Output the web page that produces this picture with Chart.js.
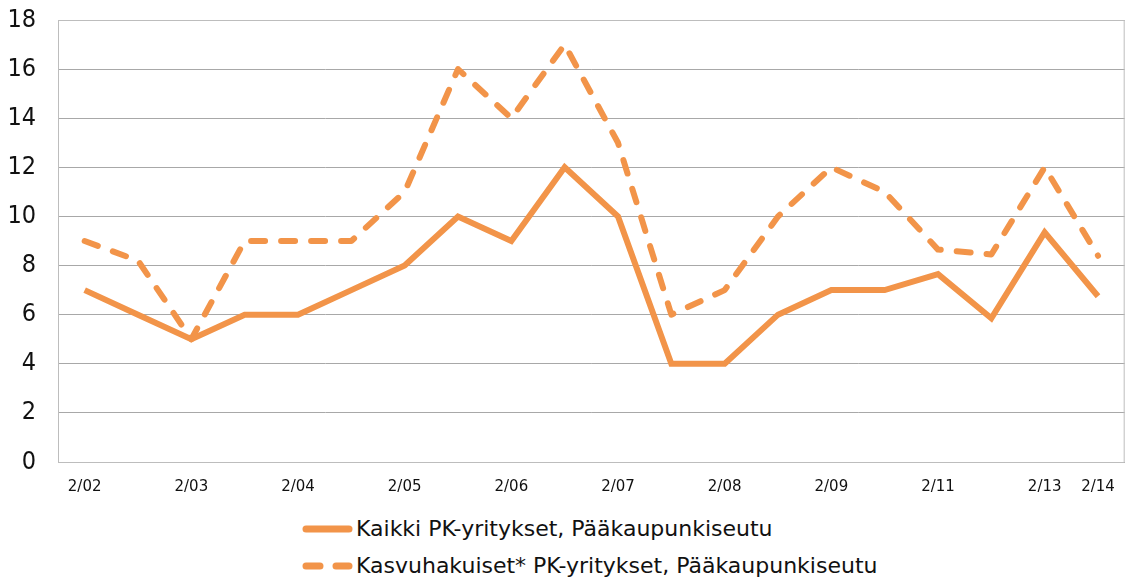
<!DOCTYPE html>
<html>
<head>
<meta charset="utf-8">
<script src="https://cdn.jsdelivr.net/npm/chart.js@4/dist/chart.umd.min.js"></script>
<style>
    html, body { margin: 0; padding: 0; background: #fff; overflow: hidden; }
    #wrap { position: relative; width: 1131px; height: 578px; overflow: hidden; }
    #chart { position: absolute; left: 0; top: 0; }
    #legend { position: absolute; left: 302px; top: 510px; font-family: "DejaVu Sans", sans-serif; font-size: 22px; color: #111; }
    .lg-row { display: flex; align-items: center; height: 37px; }
    .lg-row svg { margin-right: 3px; }
</style>
</head>
<body>
<div id="wrap">
    <canvas id="chart" width="1131" height="517"></canvas>
    <div id="legend"></div>
</div>
<script>
// ==================== DATA ====================
var periods = ['2/02', '8/02', '2/03', '8/03', '2/04', '8/04', '2/05', '8/05', '2/06', '8/06',
               '2/07', '8/07', '2/08', '8/08', '2/09', '8/09', '2/11', '8/11', '2/13', '2/14'];
var tickLabels = ['2/02', '', '2/03', '', '2/04', '', '2/05', '', '2/06', '',
                  '2/07', '', '2/08', '', '2/09', '', '2/11', '', '2/13', '2/14'];
var kaikkiValues = [7, 6, 5, 6, 6, 7, 8, 10, 9, 12, 10, 4, 4, 6, 7, 7, 7.65, 5.85, 9.35, 6.75];
var kasvuValues = [9, 8.2, 5, 9, 9, 9, 11, 16, 14, 17, 13, 6, 7, 10, 12, 11, 8.65, 8.45, 12, 8.4];
var seriesNames = ['Kaikki PK-yritykset, Pääkaupunkiseutu', 'Kasvuhakuiset* PK-yritykset, Pääkaupunkiseutu'];
var yTicks = [0, 2, 4, 6, 8, 10, 12, 14, 16, 18];

var orange = '#f29449';
var gridGray = '#a8a8a8';

// frame round the plot area (top and right edges)
var frame = {
    id: 'frame',
    beforeDatasetsDraw: function(chart) {
        var a = chart.chartArea, ctx = chart.ctx;
        ctx.save();
        ctx.strokeStyle = '#bdbdbd';
        ctx.lineWidth = 1;
        ctx.strokeRect(a.left + 0.5, a.top + 0.5, a.right - a.left - 1, a.bottom - a.top);
        ctx.restore();
    }
};

var canvas = document.getElementById('chart');
var chart = new Chart(canvas, {
    type: 'line',
    data: {
        labels: periods,
        datasets: [{
            label: seriesNames[0],
            data: kaikkiValues,
            borderColor: orange,
            borderWidth: 6,
            borderJoinStyle: 'miter',
            pointRadius: 0,
            tension: 0
        }, {
            label: seriesNames[1],
            data: kasvuValues,
            borderColor: orange,
            borderWidth: 6,
            borderDash: [14, 16],
            borderCapStyle: 'round',
            borderJoinStyle: 'round',
            pointRadius: 0,
            tension: 0
        }]
    },
    options: {
        responsive: false,
        animation: false,
        layout: { padding: { top: 0, right: 6, left: 0, bottom: 0 } },
        plugins: { legend: { display: false }, tooltip: { enabled: false } },
        scales: {
            x: {
                offset: true,
                grid: { display: false, drawTicks: false },
                border: { display: true, color: gridGray },
                afterFit: function(s) { s.height = 38; },
                ticks: {
                    autoSkip: false,
                    maxRotation: 0,
                    padding: 16,
                    color: '#111',
                    font: { family: '"DejaVu Sans", sans-serif', size: 15 },
                    callback: function(v, i) { return tickLabels[i]; }
                }
            },
            y: {
                min: 0,
                max: 18,
                afterFit: function(s) { s.width = 58; },
                afterBuildTicks: function(s) { s.ticks = yTicks.map(function(v) { return { value: v }; }); },
                grid: { color: gridGray, drawTicks: false },
                border: { display: true, color: gridGray },
                ticks: {
                    padding: 22,
                    color: '#111',
                    font: { family: '"Liberation Sans Narrow", "DejaVu Sans Condensed", sans-serif', size: 25 }
                }
            }
        }
    },
    plugins: [frame]
});

// shift the canvas so the plot top sits at y=20
canvas.style.top = (20 - chart.chartArea.top) + 'px';

// HTML legend, one row per series
var legendHtml = '';
chart.data.datasets.forEach(function(ds) {
    var sample = ds.borderDash
        ? '<line x1="4" y1="8" x2="47" y2="8" stroke="' + ds.borderColor + '" stroke-width="7" stroke-linecap="round" stroke-dasharray="14 16"/>'
        : '<line x1="4" y1="8" x2="47" y2="8" stroke="' + ds.borderColor + '" stroke-width="7" stroke-linecap="round"/>';
    legendHtml += '<div class="lg-row"><svg width="51" height="16">' + sample + '</svg><span>' + ds.label + '</span></div>';
});
document.getElementById('legend').innerHTML = legendHtml;
</script>
</body>
</html>
